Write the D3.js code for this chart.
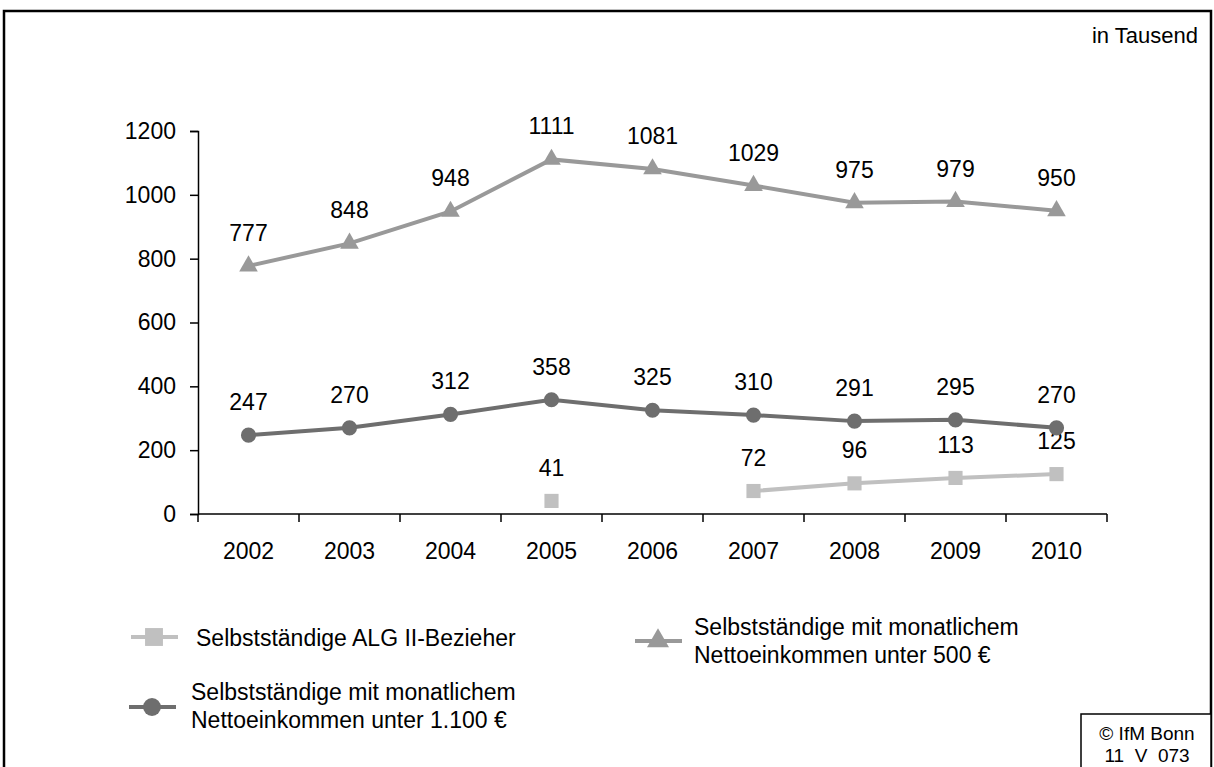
<!DOCTYPE html>
<html>
<head>
<meta charset="utf-8">
<script src="https://cdn.jsdelivr.net/npm/d3@7"></script>
<style>
  body { margin: 0; background: #fff; }
  svg text { font-family: "Liberation Sans", Arial, sans-serif; fill: #000; }
</style>
</head>
<body>
<div id="chart"></div>
<script>
// data (in thousands)
var years = ["2002", "2003", "2004", "2005", "2006", "2007", "2008", "2009", "2010"];
var alg2 = [null, null, null, 41, null, 72, 96, 113, 125];
var under500 = [777, 848, 948, 1111, 1081, 1029, 975, 979, 950];
var under1100 = [247, 270, 312, 358, 325, 310, 291, 295, 270];
var yTicks = [0, 200, 400, 600, 800, 1000, 1200];

var W = 1214, H = 767;

var svg = d3.select("#chart")
    .append("svg")
    .attr("width", W)
    .attr("height", H);

// outer frame
svg.append("rect")
    .attr("x", 4).attr("y", 11)
    .attr("width", 1207).attr("height", 770)
    .attr("fill", "none")
    .attr("stroke", "#000")
    .attr("stroke-width", 2.5);

svg.append("text")
    .attr("x", 1198).attr("y", 43)
    .attr("text-anchor", "end")
    .style("font-size", "22px")
    .text("in Tausend");

// scales
var x = d3.scaleBand()
    .domain(years)
    .range([198, 1107]);

var y = d3.scaleLinear()
    .domain([0, 1200])
    .range([514, 131]);

// y axis
var yAxis = svg.append("g")
    .attr("transform", "translate(198,0)")
    .call(d3.axisLeft(y).tickValues(yTicks).tickFormat(d3.format("d")).tickSize(8).tickPadding(14));
yAxis.selectAll("text")
    .style("font-size", "23px")
    .style("font-family", "Liberation Sans, Arial, sans-serif")
    .attr("fill", "#000");
yAxis.selectAll("line,path").attr("stroke", "#000").attr("stroke-width", 1.5);

// x axis, ticks sit on the category boundaries
var xg = svg.append("g").attr("transform", "translate(0,514)");
xg.append("line")
    .attr("x1", 198).attr("x2", 1107)
    .attr("stroke", "#000").attr("stroke-width", 1.5);
var bounds = years.map(function(d) { return x(d); }).concat([x(years[years.length - 1]) + x.bandwidth()]);
xg.selectAll(".tk")
    .data(bounds)
    .enter()
    .append("line")
    .attr("x1", function(d) { return d; })
    .attr("x2", function(d) { return d; })
    .attr("y1", 0).attr("y2", 8)
    .attr("stroke", "#000").attr("stroke-width", 1.5);
xg.selectAll(".yl")
    .data(years)
    .enter()
    .append("text")
    .attr("x", function(d) { return x(d) + x.bandwidth() / 2; })
    .attr("y", 45)
    .attr("text-anchor", "middle")
    .style("font-size", "23px")
    .text(function(d) { return d; });

function cx(i) { return x(years[i]) + x.bandwidth() / 2; }

var line = d3.line()
    .defined(function(d) { return d != null; })
    .x(function(d, i) { return cx(i); })
    .y(function(d) { return y(d); });

var series = [
    { values: alg2, color: "#c0c0c0", symbol: d3.symbolSquare, size: 200, legSize: 320 },
    { values: under500, color: "#999999", symbol: d3.symbolTriangle, size: 150, legSize: 210 },
    { values: under1100, color: "#6e6e6e", symbol: d3.symbolCircle, size: 180, legSize: 250 }
];

series.forEach(function(s) {
    svg.append("path")
        .datum(s.values)
        .attr("d", line)
        .attr("fill", "none")
        .attr("stroke", s.color)
        .attr("stroke-width", 4);

    var pts = s.values.map(function(v, i) { return { v: v, i: i }; })
        .filter(function(d) { return d.v != null; });

    svg.append("g")
        .selectAll("path")
        .data(pts)
        .enter()
        .append("path")
        .attr("d", d3.symbol().type(s.symbol).size(s.size))
        .attr("transform", function(d) { return "translate(" + cx(d.i) + "," + y(d.v) + ")"; })
        .attr("fill", s.color);

    svg.append("g")
        .selectAll("text")
        .data(pts)
        .enter()
        .append("text")
        .attr("x", function(d) { return cx(d.i); })
        .attr("y", function(d) { return y(d.v) - 25; })
        .attr("text-anchor", "middle")
        .style("font-size", "23px")
        .text(function(d) { return d.v; });
});

// legend
function legendItem(lx, ly, s, lines, tx, ty) {
    svg.append("line")
        .attr("x1", lx).attr("x2", lx + 47)
        .attr("y1", ly).attr("y2", ly)
        .attr("stroke", s.color).attr("stroke-width", 4);
    svg.append("path")
        .attr("d", d3.symbol().type(s.symbol).size(s.legSize))
        .attr("transform", "translate(" + (lx + 23) + "," + ly + ")")
        .attr("fill", s.color);
    var t = svg.append("text")
        .attr("x", tx)
        .attr("y", ty)
        .style("font-size", "23px");
    lines.forEach(function(l, k) {
        t.append("tspan").attr("x", tx).attr("dy", k ? 28 : 0).text(l);
    });
}
legendItem(131, 637, series[0], ["Selbstständige ALG II-Bezieher"], 196, 646);
legendItem(635, 641, series[1], ["Selbstständige mit monatlichem", "Nettoeinkommen unter 500 €"], 694, 635);
legendItem(129, 707, series[2], ["Selbstständige mit monatlichem", "Nettoeinkommen unter 1.100 €"], 191, 700);

// copyright box
svg.append("rect")
    .attr("x", 1081).attr("y", 714)
    .attr("width", 130).attr("height", 70)
    .attr("fill", "#fff")
    .attr("stroke", "#000").attr("stroke-width", 1.5);
svg.append("text")
    .attr("x", 1147).attr("y", 740)
    .attr("text-anchor", "middle")
    .style("font-size", "19px")
    .text("© IfM Bonn");
svg.append("text")
    .attr("x", 1147).attr("y", 762)
    .attr("text-anchor", "middle")
    .style("font-size", "19px")
    .style("white-space", "pre")
    .text("11  V  073");
</script>
</body>
</html>
